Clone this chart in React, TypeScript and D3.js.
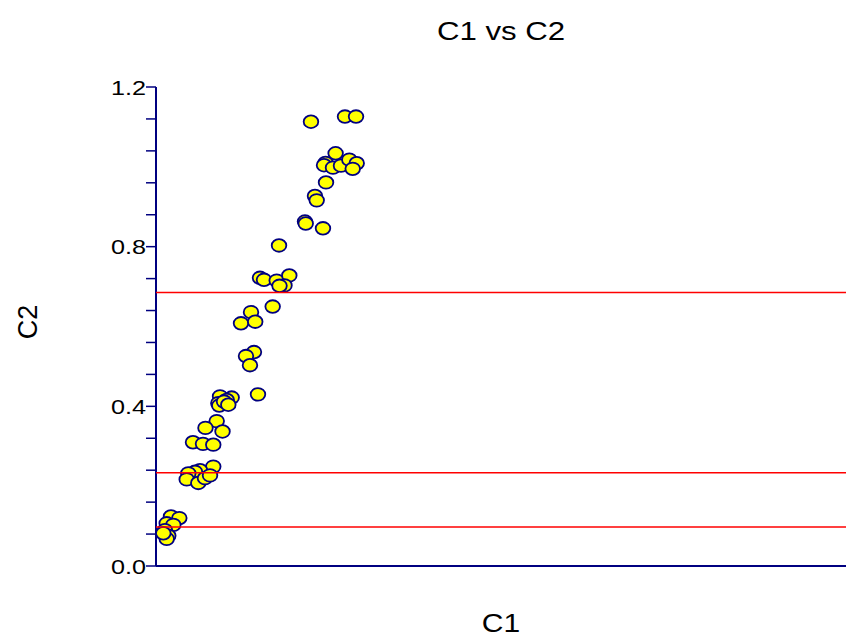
import React from "react";
import * as d3 from "d3";

const c1: number[] = [
  22.46, 27.39, 28.99, 26.03, 24.57, 24.35, 25.65, 26.81, 28.02, 29.09,
  28.51, 24.64, 23.04, 23.29, 21.59, 21.7, 24.2, 17.83, 15.07, 15.65,
  17.49, 19.32, 18.62, 17.9, 16.91, 13.77, 12.32, 14.38, 14.2, 13.04,
  13.62, 14.78, 9.28, 10.97, 10.25, 9.03, 9.17, 9.86, 10.48, 8.8,
  7.17, 9.64, 5.36, 6.81, 8.3, 8.3, 6.38, 5.65, 4.68, 4.45,
  6.13, 7.1, 7.83, 2.17, 3.38, 1.55, 2.51, 1.3, 1.78, 1.55, 1.06,
];
const c2: number[] = [
  1.113, 1.126, 1.126, 1.034, 1.01, 1.004, 0.998, 1.003, 1.018, 1.009,
  0.995, 0.961, 0.927, 0.916, 0.863, 0.858, 0.846, 0.803, 0.722, 0.717,
  0.715, 0.728, 0.703, 0.702, 0.65, 0.636, 0.608, 0.612, 0.536, 0.526,
  0.503, 0.43, 0.425, 0.422, 0.416, 0.408, 0.402, 0.412, 0.404, 0.363,
  0.346, 0.337, 0.31, 0.306, 0.304, 0.249, 0.24, 0.236, 0.232, 0.217,
  0.208, 0.22, 0.227, 0.124, 0.12, 0.107, 0.103, 0.09, 0.076, 0.068, 0.082,
];
const refLines: number[] = [0.685, 0.2335, 0.098];
const yTickValues: number[] = [0, 0.4, 0.8, 1.2];
const yTickLabels: string[] = ["0.0", "0.4", "0.8", "1.2"];
const yMinorStep = 0.08;

const W = 846;
const H = 638;
const FONT = "Arial, 'Liberation Sans', sans-serif";
const AXIS = "#000080";
const SX = 1.2;

export default function App() {
  const x = d3.scaleLinear().domain([0, 100]).range([156, 846]);
  const y = d3.scaleLinear().domain([0, 1.2]).range([566, 87]);
  const minor = d3.range(0, 1.2 + 1e-9, yMinorStep);
  const points = c1.map((v, i) => ({ x: v, y: c2[i] }));

  return (
    <svg
      width={W}
      height={H}
      style={{ position: "absolute", left: 0, top: 0, background: "#fff" }}
    >
      <text
        transform={`translate(501,40) scale(${SX},1)`}
        textAnchor="middle"
        fontFamily={FONT}
        fontSize={26}
        fill="#000"
      >
        C1 vs C2
      </text>
      <text
        transform={`translate(501,632) scale(${SX},1)`}
        textAnchor="middle"
        fontFamily={FONT}
        fontSize={25}
        fill="#000"
      >
        C1
      </text>
      <text
        transform={`translate(37,322) rotate(-90)`}
        textAnchor="middle"
        fontFamily={FONT}
        fontSize={27}
        fill="#000"
      >
        C2
      </text>

      {minor.map((t, i) => (
        <line
          key={"m" + i}
          x1={146}
          x2={156}
          y1={y(t)}
          y2={y(t)}
          stroke={AXIS}
          strokeWidth={1.5}
        />
      ))}
      {yTickValues.map((t, i) => (
        <text
          key={"l" + i}
          transform={`translate(146,${y(t) + 7.5}) scale(${SX},1)`}
          textAnchor="end"
          fontFamily={FONT}
          fontSize={21}
          fill="#000"
        >
          {yTickLabels[i]}
        </text>
      ))}

      <line x1={156} x2={156} y1={y(1.2)} y2={y(0)} stroke={AXIS} strokeWidth={2} />
      <line x1={156} x2={846} y1={y(0)} y2={y(0)} stroke={AXIS} strokeWidth={2} />

      {points.map((p, i) => (
        <ellipse
          key={"p" + i}
          cx={x(p.x)}
          cy={y(p.y)}
          rx={7.3}
          ry={6.3}
          fill="#ffff00"
          stroke={AXIS}
          strokeWidth={1.8}
        />
      ))}

      {refLines.map((v, i) => (
        <line
          key={"r" + i}
          x1={156}
          x2={846}
          y1={y(v)}
          y2={y(v)}
          stroke="#ff0000"
          strokeWidth={1.5}
        />
      ))}
    </svg>
  );
}
